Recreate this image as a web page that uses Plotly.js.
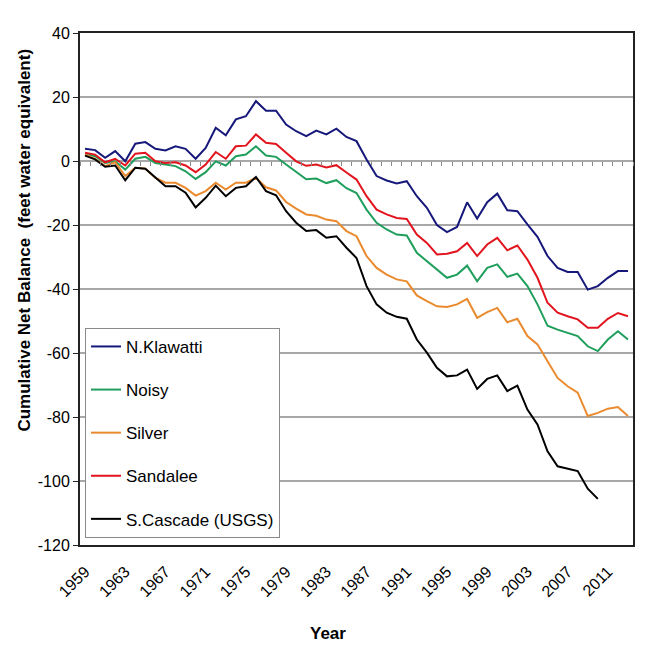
<!DOCTYPE html>
<html><head><meta charset="utf-8">
<script src="https://cdn.plot.ly/plotly-3.0.1.min.js"></script>
<style>html,body{margin:0;padding:0;background:#fff}#chart{width:650px;height:650px}</style>
</head><body><div id="chart"></div>
<script>
const years = [1959,1960,1961,1962,1963,1964,1965,1966,1967,1968,1969,1970,1971,1972,1973,1974,1975,1976,1977,1978,1979,1980,1981,1982,1983,1984,1985,1986,1987,1988,1989,1990,1991,1992,1993,1994,1995,1996,1997,1998,1999,2000,2001,2002,2003,2004,2005,2006,2007,2008,2009,2010,2011,2012,2013];

const nKlawatti = [3.8,3.4,1.0,3.1,-0.1,5.4,5.9,3.8,3.3,4.6,3.8,0.7,4.1,10.4,8.0,13.0,14.0,18.7,15.7,15.7,11.4,9.3,7.8,9.5,8.3,10.1,7.5,6.2,0.5,-4.7,-6.1,-7.0,-6.3,-11.0,-14.6,-20.0,-22.2,-20.6,-12.9,-18.0,-12.9,-10.2,-15.4,-15.7,-19.8,-23.7,-29.7,-33.4,-34.7,-34.7,-40.2,-39.1,-36.5,-34.4,-34.4];

const noisy = [2.3,1.5,-0.6,-0.1,-2.7,0.7,1.3,-0.6,-1.1,-1.6,-3.2,-5.6,-3.5,-0.1,-1.4,1.5,2.0,4.6,1.7,1.3,-1.1,-3.5,-5.7,-5.5,-6.9,-6.0,-8.5,-10.0,-15.2,-19.3,-21.4,-23.0,-23.3,-28.7,-31.3,-33.9,-36.5,-35.5,-32.7,-37.6,-33.4,-32.3,-36.2,-35.2,-39.1,-44.8,-51.5,-52.7,-53.7,-54.7,-57.9,-59.4,-55.8,-53.2,-55.8];

const silver = [2.0,0.7,-1.6,-0.4,-4.7,-2.1,-2.4,-5.3,-6.8,-6.8,-8.4,-10.8,-9.4,-6.8,-8.9,-6.8,-6.8,-5.3,-8.2,-9.2,-12.8,-14.9,-16.7,-17.1,-18.3,-18.8,-21.9,-23.5,-29.7,-33.4,-35.5,-37.0,-37.6,-42.0,-43.8,-45.4,-45.6,-44.8,-43.1,-49.0,-47.2,-45.9,-50.4,-49.3,-54.7,-57.3,-62.6,-67.8,-70.4,-72.4,-79.7,-78.7,-77.4,-76.9,-79.7];

const sandalee = [2.6,2.0,-0.4,0.7,-1.4,2.3,2.6,-0.1,-0.6,-0.4,-1.4,-3.5,-1.1,2.8,0.7,4.6,4.8,8.3,5.7,5.3,2.6,-0.1,-1.5,-1.1,-2.0,-1.3,-3.6,-5.8,-11.0,-15.2,-16.7,-17.8,-18.1,-23.0,-25.6,-29.2,-29.0,-28.2,-25.6,-29.7,-26.1,-24.0,-27.9,-26.4,-30.8,-36.5,-44.3,-47.4,-48.5,-49.5,-52.1,-52.1,-49.3,-47.5,-48.5];

const sCascadeYears = [1959,1960,1961,1962,1963,1964,1965,1966,1967,1968,1969,1970,1971,1972,1973,1974,1975,1976,1977,1978,1979,1980,1981,1982,1983,1984,1985,1986,1987,1988,1989,1990,1991,1992,1993,1994,1995,1996,1997,1998,1999,2000,2001,2002,2003,2004,2005,2006,2007,2008,2009,2010];
const sCascade = [1.7,0.5,-1.8,-1.4,-6.0,-2.1,-2.4,-5.3,-7.9,-7.9,-9.9,-14.5,-11.5,-7.7,-11.0,-8.4,-7.9,-5.0,-9.4,-10.7,-15.7,-19.3,-21.9,-21.6,-24.0,-23.5,-27.1,-30.3,-39.1,-44.8,-47.4,-48.7,-49.3,-55.8,-59.9,-64.6,-67.3,-67.0,-65.2,-71.2,-68.1,-67.0,-71.9,-70.2,-77.7,-82.3,-90.7,-95.4,-96.2,-96.9,-102.4,-105.6];

const seriesNames = ["N.Klawatti","Noisy","Silver","Sandalee","S.Cascade (USGS)"];
const seriesColors = ["#16187a","#1f9e5c","#ea8a2e","#e2141e","#000000"];
const tickYears = [1959,1963,1967,1971,1975,1979,1983,1987,1991,1995,1999,2003,2007,2011];
const yTicks = [40,20,0,-20,-40,-60,-80,-100,-120];
const yTickText = ["40","20","0","-20","-40","-60","-80","-100","-120"];

const seriesX = [years, years, years, years, sCascadeYears];
const seriesY = [nKlawatti, noisy, silver, sandalee, sCascade];

const FONT = 'Liberation Sans, Arial, sans-serif';

const traces = seriesNames.map((name, i) => ({
  type: 'scatter', mode: 'lines', name: name,
  x: seriesX[i], y: seriesY[i],
  line: {color: seriesColors[i], width: 2},
  legendgroup: 'g' + i
}));
traces.push({type:'scatter', mode:'lines', x:[], y:[], xaxis:'x2', yaxis:'y', showlegend:false, hoverinfo:'skip'});

const layout = {
  width: 650, height: 650,
  margin: {l: 80, r: 17, t: 33, b: 105},
  paper_bgcolor: '#fff', plot_bgcolor: '#fff',
  font: {family: FONT, color: '#000'},
  showlegend: true,
  xaxis: {
    range: [1958.5, 2013.5], tickmode: 'array', tickvals: tickYears,
    ticktext: tickYears.map(String), tickangle: -45, ticks: '',
    ticklabelstandoff: 9,
    showgrid: false, zeroline: false, showline: true, linecolor: '#222',
    linewidth: 2, mirror: true, tickfont: {size: 16, family: FONT}
  },
  xaxis2: {
    overlaying: 'x', anchor: 'free', position: 0.75, side: 'bottom',
    range: [1958.5, 2013.5], tickmode: 'linear', tick0: 1958.5, dtick: 1,
    ticks: 'outside', ticklen: 4, tickwidth: 1, tickcolor: '#888',
    showticklabels: false, showline: false, showgrid: false, zeroline: false
  },
  yaxis: {
    range: [-120, 40], tickmode: 'array', tickvals: yTicks, ticktext: yTickText,
    ticks: 'outside', ticklen: 5, tickcolor: '#222',
    showgrid: true, gridcolor: '#a8a8a8', gridwidth: 2, zeroline: false,
    showline: true, linecolor: '#222', linewidth: 2, mirror: true,
    tickfont: {size: 16, family: FONT}
  },
  legend: {
    x: 0.009, y: 0.424, xanchor: 'left', yanchor: 'top',
    bordercolor: '#8a8a8a', borderwidth: 1, bgcolor: '#fff',
    font: {size: 17, family: FONT}, traceorder: 'grouped', tracegroupgap: 18,
    itemwidth: 30
  },
  annotations: [
    {text: '<b>Cumulative Net Balance  (feet water equivalent)</b>', xref: 'paper', yref: 'paper',
     x: -0.1, y: 0.596, textangle: -90, showarrow: false, xanchor: 'center', yanchor: 'middle',
     font: {size: 17, family: FONT}},
    {text: '<b>Year</b>', xref: 'paper', yref: 'paper', x: 0.4485, y: -0.172,
     showarrow: false, xanchor: 'center', yanchor: 'middle', font: {size: 17, family: FONT}}
  ]
};

Plotly.newPlot('chart', traces, layout, {displayModeBar: false, staticPlot: true});
</script>
</body></html>
